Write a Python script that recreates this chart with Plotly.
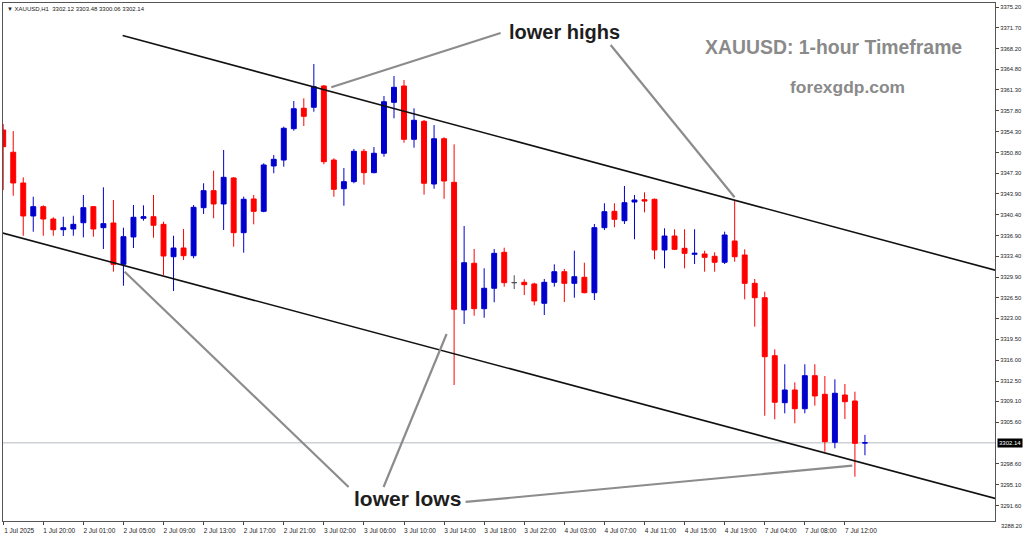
import plotly.graph_objects as go

# ---------------- data ----------------
sessions = [("1 Jul", 16, 23), ("2 Jul", 1, 23), ("3 Jul", 1, 23), ("4 Jul", 1, 19), ("7 Jul", 1, 14)]
times = [f"{d} {h:02d}:00" for d, a, b in sessions for h in range(a, b + 1)]

opens = [3354.58, 3350.85, 3345.70, 3340.17, 3341.73, 3339.66, 3337.87, 3337.99, 3339.04, 3341.73,
         3338.21, 3338.99, 3332.07, 3336.65, 3339.78, 3340.05, 3338.77, 3333.34, 3334.80, 3333.51,
         3341.56, 3344.41, 3342.18, 3346.54, 3337.37, 3343.02, 3340.95, 3348.55, 3349.55, 3354.80,
         3358.22, 3358.39, 3361.96, 3349.55, 3344.74, 3345.92, 3351.01, 3347.43, 3350.68, 3359.22,
         3361.96, 3353.02, 3356.04, 3345.53, 3353.12, 3345.81, 3324.42, 3332.24, 3324.63, 3328.05,
         3334.08, 3329.00, 3329.05, 3328.77, 3325.53, 3329.05, 3330.83, 3328.88, 3329.89, 3327.31,
         3338.21, 3340.95, 3339.38, 3342.51, 3342.90, 3342.97, 3334.47, 3336.81, 3334.75, 3333.75,
         3333.80, 3333.41, 3332.41, 3335.97, 3333.63, 3328.88, 3326.47, 3316.75, 3308.87, 3311.00,
         3307.86, 3313.40, 3310.28, 3302.23, 3310.16, 3309.16, 3302.12]
highs = [3355.59, 3354.41, 3346.65, 3343.40, 3341.96, 3339.95, 3340.05, 3340.21, 3343.69, 3341.84,
         3344.97, 3342.85, 3338.21, 3342.01, 3341.96, 3343.69, 3339.21, 3336.86, 3337.99, 3342.01,
         3345.65, 3347.76, 3351.23, 3346.70, 3343.40, 3343.69, 3349.00, 3350.39, 3355.14, 3359.44,
         3359.89, 3365.64, 3362.13, 3349.84, 3348.21, 3351.40, 3351.40, 3351.73, 3360.28, 3363.63,
         3362.96, 3358.22, 3356.26, 3355.42, 3353.36, 3352.18, 3338.49, 3334.64, 3331.40, 3334.64,
         3334.85, 3330.23, 3329.56, 3328.99, 3329.61, 3332.07, 3331.29, 3334.35, 3332.34, 3338.83,
         3342.30, 3342.30, 3345.20, 3343.69, 3344.14, 3343.10, 3338.10, 3337.94, 3337.94, 3337.94,
         3334.35, 3334.08, 3337.54, 3342.73, 3334.58, 3329.61, 3327.48, 3317.82, 3315.31, 3312.28,
         3315.31, 3315.31, 3313.35, 3312.79, 3312.00, 3310.72, 3303.48]
lows = [3344.53, 3343.57, 3336.86, 3337.53, 3336.86, 3336.86, 3336.81, 3336.86, 3336.59, 3336.70,
        3334.64, 3330.83, 3328.48, 3334.80, 3339.38, 3336.53, 3330.28, 3327.60, 3332.79, 3333.08,
        3340.50, 3339.78, 3337.82, 3335.02, 3334.02, 3338.77, 3340.80, 3347.33, 3348.43, 3354.46,
        3355.25, 3357.65, 3348.83, 3343.40, 3341.89, 3345.65, 3345.41, 3347.33, 3350.11, 3356.54,
        3352.45, 3351.62, 3343.74, 3344.74, 3343.06, 3311.84, 3322.06, 3323.45, 3323.12, 3325.70,
        3328.32, 3327.93, 3326.92, 3325.20, 3323.57, 3328.32, 3325.75, 3326.47, 3327.21, 3326.08,
        3337.82, 3338.27, 3338.83, 3336.26, 3340.78, 3332.91, 3331.40, 3334.47, 3331.40, 3332.12,
        3330.83, 3330.83, 3332.12, 3332.51, 3326.20, 3321.61, 3306.69, 3306.08, 3307.09, 3305.42,
        3307.09, 3308.37, 3300.66, 3301.23, 3306.14, 3296.47, 3300.06]
closes = [3351.78, 3345.70, 3340.17, 3341.73, 3339.66, 3337.87, 3338.21, 3338.77, 3341.56, 3337.99,
          3338.88, 3332.07, 3336.70, 3339.95, 3340.05, 3338.61, 3333.46, 3334.80, 3333.51, 3341.62,
          3344.41, 3342.18, 3346.65, 3337.37, 3342.97, 3340.95, 3348.72, 3349.67, 3354.87, 3358.15,
          3356.88, 3361.84, 3349.27, 3344.64, 3345.92, 3351.01, 3347.43, 3350.68, 3359.32, 3361.74,
          3353.02, 3356.21, 3345.65, 3353.12, 3346.03, 3324.53, 3332.34, 3324.63, 3328.05, 3333.91,
          3328.99, 3329.00, 3328.65, 3325.92, 3329.05, 3330.83, 3328.88, 3329.99, 3327.31, 3338.21,
          3340.89, 3339.61, 3342.40, 3342.85, 3342.68, 3334.47, 3336.81, 3334.58, 3333.91, 3333.91,
          3333.24, 3332.41, 3336.98, 3333.34, 3328.88, 3326.47, 3316.58, 3308.94, 3311.00, 3307.86,
          3313.40, 3310.00, 3302.33, 3310.45, 3309.04, 3302.06, 3302.14]

x_tick_labels = ["1 Jul 2025", "1 Jul 20:00", "2 Jul 01:00", "2 Jul 05:00", "2 Jul 09:00", "2 Jul 13:00",
                 "2 Jul 17:00", "2 Jul 21:00", "3 Jul 02:00", "3 Jul 06:00", "3 Jul 10:00", "3 Jul 14:00",
                 "3 Jul 18:00", "3 Jul 22:00", "4 Jul 03:00", "4 Jul 07:00", "4 Jul 11:00", "4 Jul 15:00",
                 "4 Jul 19:00", "7 Jul 04:00", "7 Jul 08:00", "7 Jul 12:00"]
x_tick_times = times[::4]

y_ticks = [3375.20, 3371.70, 3368.20, 3364.80, 3361.30, 3357.80, 3354.30, 3350.80, 3347.30, 3343.90,
           3340.40, 3336.90, 3333.40, 3329.90, 3326.50, 3323.00, 3319.50, 3316.00, 3312.50, 3309.10,
           3305.60, 3298.60, 3295.10, 3291.60]
y_bottom_label = 3288.20
current_price = 3302.14
header = "\u25BC XAUUSD,H1  3302.12 3303.48 3300.06 3302.14"

y_range = [3289.04, 3375.87]
x_range = [-0.02, 98.98]

# trend channel (bar index, price)
upper_channel = ([11.92, 99.5], [3370.41, 3330.85])
lower_channel = ([-0.5, 99.5], [3337.50, 3292.60])

# pointer lines (bar index, price) start -> end
pointers = [
    ((49.64, 3370.84), (32.74, 3361.74)),
    ((60.62, 3368.83), (72.99, 3343.30)),
    ((34.47, 3294.74), (12.12, 3330.83)),
    ((37.96, 3294.74), (44.25, 3320.39)),
    ((46.15, 3292.23), (84.74, 3298.31)),
]

BLUE = "#0000CD"
RED = "#FF0000"
GREY = "#505050"

# ---------------- figure ----------------
idx_move = [i for i in range(len(times)) if closes[i] != opens[i]]
idx_flat = [i for i in range(len(times)) if closes[i] == opens[i]]

def sub(arr, idx):
    return [arr[i] for i in idx]

fig = go.Figure()
fig.add_trace(go.Candlestick(
    x=sub(times, idx_move), open=sub(opens, idx_move), high=sub(highs, idx_move),
    low=sub(lows, idx_move), close=sub(closes, idx_move),
    increasing=dict(line=dict(color=BLUE, width=1), fillcolor=BLUE),
    decreasing=dict(line=dict(color=RED, width=1), fillcolor=RED),
    hoverinfo="skip", showlegend=False))
fig.add_trace(go.Candlestick(
    x=sub(times, idx_flat), open=sub(opens, idx_flat), high=sub(highs, idx_flat),
    low=sub(lows, idx_flat), close=sub(closes, idx_flat),
    increasing=dict(line=dict(color=GREY, width=1), fillcolor=GREY),
    decreasing=dict(line=dict(color=GREY, width=1), fillcolor=GREY),
    hoverinfo="skip", showlegend=False))

shapes = []
# current price line
shapes.append(dict(type="line", xref="paper", yref="y", x0=0, x1=1, y0=current_price, y1=current_price,
                   line=dict(color="#B4BAC2", width=1), layer="below"))
for xs, ys in (upper_channel, lower_channel):
    shapes.append(dict(type="line", xref="x", yref="y", x0=xs[0], x1=xs[1], y0=ys[0], y1=ys[1],
                       line=dict(color="#111111", width=1.6)))
for (xa, ya), (xb, yb) in pointers:
    shapes.append(dict(type="line", xref="x", yref="y", x0=xa, y0=ya, x1=xb, y1=yb,
                       line=dict(color="#8C8C8C", width=2.2)))

def label(text, x, y, size, color):
    return dict(text=f"<b>{text}</b>", xref="paper", yref="paper", x=x, y=y, xanchor="center",
                yanchor="middle", showarrow=False,
                font=dict(family="Liberation Sans", size=size, color=color))

annotations = [
    label("lower highs", 0.5665, 0.944, 20, "#1E1E1E"),
    label("lower lows", 0.408, 0.0444, 21, "#1E1E1E"),
    label("XAUUSD: 1-hour Timeframe", 0.8377, 0.915, 19.4, "#8A8A8A"),
    label("forexgdp.com", 0.8518, 0.838, 17.4, "#8A8A8A"),
    dict(text=header, xref="paper", yref="paper", x=0, y=1, xanchor="left", yanchor="top",
         xshift=2, yshift=-1, showarrow=False, font=dict(family="Liberation Sans", size=6, color="#222")),
    dict(text=f"{current_price:.2f}", xref="paper", yref="y", x=1, y=current_price, xanchor="left",
         yanchor="middle", xshift=2, showarrow=False, bgcolor="#000000", borderpad=1,
         font=dict(family="Liberation Sans", size=6, color="#FFFFFF")),
    dict(text=f"{y_bottom_label:.2f}", xref="paper", yref="y domain", x=1,
         y=(y_bottom_label - y_range[0]) / (y_range[1] - y_range[0]), xanchor="left", yanchor="middle",
         xshift=4, showarrow=False, font=dict(family="Liberation Sans", size=5.8, color="#222")),
]

fig.update_layout(
    width=1024, height=541,
    margin=dict(l=3, r=29, t=3, b=20),
    plot_bgcolor="white", paper_bgcolor="white",
    showlegend=False,
    shapes=shapes, annotations=annotations,
    xaxis=dict(type="category", categoryorder="array", categoryarray=times, range=x_range,
               rangeslider=dict(visible=False), tickvals=x_tick_times, ticktext=x_tick_labels,
               ticks="outside", ticklen=3, tickcolor="#444", tickangle=0, ticklabelshift=16,
               tickfont=dict(family="Liberation Sans", size=6.5, color="#222"),
               showline=True, linecolor="#555", linewidth=1, mirror=True, showgrid=False, zeroline=False),
    yaxis=dict(side="right", range=y_range, tickvals=y_ticks, ticktext=[f"{v:.2f}" for v in y_ticks],
               ticks="outside", ticklen=3, tickcolor="#444",
               tickfont=dict(family="Liberation Sans", size=5.8, color="#222"),
               showline=True, linecolor="#555", linewidth=1, mirror=True, showgrid=False, zeroline=False),
)

fig.write_html("out.html", config={"displayModeBar": False},
               post_script="document.body.style.margin='0px';document.body.style.overflow='hidden';")
